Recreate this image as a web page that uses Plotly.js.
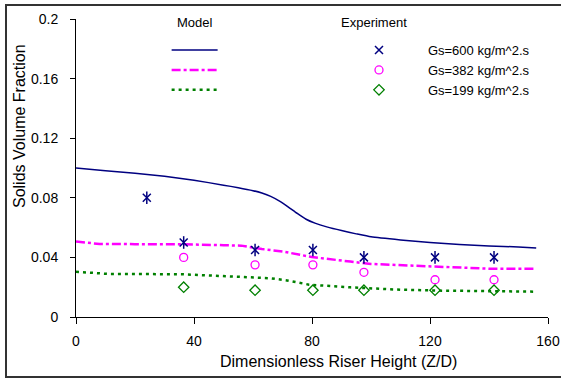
<!DOCTYPE html>
<html>
<head>
<meta charset="utf-8">
<script src="https://cdn.plot.ly/plotly-3.0.1.min.js"></script>
<style>html,body{margin:0;padding:0;background:#fff;}#chart{width:561px;height:379px;}</style>
</head>
<body>
<div id="chart"></div>
<script>
// Model curves
const modelX600 = [0, 10, 20, 30, 40, 50, 55, 60, 63, 66, 69, 72, 75, 78, 81, 85, 90, 95, 100, 110, 120, 130, 140, 150, 156];
const model600  = [0.100, 0.0982, 0.0965, 0.0945, 0.0918, 0.0885, 0.0868, 0.0848, 0.0832, 0.0810, 0.0778, 0.0738, 0.0695, 0.0656, 0.0630, 0.0605, 0.0580, 0.0558, 0.0538, 0.0517, 0.0500, 0.0487, 0.0477, 0.0470, 0.0463];
const modelX382 = [0, 8, 20, 36, 50, 56, 63, 70, 80, 86, 93, 100, 110, 124, 140, 156];
const model382  = [0.0506, 0.0490, 0.0489, 0.0488, 0.0482, 0.0479, 0.0456, 0.0440, 0.0402, 0.0390, 0.0372, 0.0356, 0.0349, 0.0338, 0.0324, 0.0324];
const modelX199 = [0, 11, 36, 52, 66, 72, 79, 93, 110, 124, 140, 156];
const model199  = [0.0304, 0.0289, 0.0287, 0.0275, 0.0260, 0.0244, 0.0217, 0.0199, 0.0183, 0.0177, 0.0173, 0.0170];

// Experimental points
const expX600 = [24, 36.5, 60.7, 80.3, 97.6, 121.7, 141.7];
const exp600  = [0.080, 0.050, 0.045, 0.045, 0.040, 0.040, 0.040];
const expX    = [36.5, 60.7, 80.3, 97.6, 121.7, 141.7];
const exp382  = [0.040, 0.035, 0.035, 0.030, 0.025, 0.025];
const exp199  = [0.020, 0.018, 0.018, 0.018, 0.018, 0.018];

const seriesNames = ["Gs=600 kg/m^2.s", "Gs=382 kg/m^2.s", "Gs=199 kg/m^2.s"];
const xTicks = [0, 40, 80, 120, 160];
const yTicks = [0, 0.04, 0.08, 0.12, 0.16, 0.2];
const yTickText = ["0", "0.04", "0.08", "0.12", "0.16", "0.2"];

const NAVY = "#000080", MAG = "#FF00FF", GRN = "#008000";
const FONT = "Arial, 'Liberation Sans', sans-serif";
const PAD = "\u00A0".repeat(8);

const data = [
  {x: modelX600, y: model600, mode: "lines", name: "", legend: "legend",
   line: {color: NAVY, width: 1.5, shape: "spline", smoothing: 0.5}, hoverinfo: "skip"},
  {x: modelX382, y: model382, mode: "lines", name: "", legend: "legend",
   line: {color: MAG, width: 2.5, dash: "9px,3px,3px,3px"}, hoverinfo: "skip"},
  {x: modelX199, y: model199, mode: "lines", name: "", legend: "legend",
   line: {color: GRN, width: 2.5, dash: "3px,4px"}, hoverinfo: "skip"},
  {x: expX600, y: exp600, mode: "markers", name: PAD + seriesNames[0], legend: "legend2",
   marker: {symbol: "x-thin-open", size: 8, color: NAVY, line: {color: NAVY, width: 1.5}}},
  {x: expX600, y: exp600, mode: "markers", name: seriesNames[0], showlegend: false,
   marker: {symbol: "line-ns-open", size: 9, color: NAVY, line: {color: NAVY, width: 1.5}}},
  {x: expX, y: exp382, mode: "markers", name: PAD + seriesNames[1], legend: "legend2",
   marker: {symbol: "circle-open", size: 8, color: MAG, line: {color: MAG, width: 1.3}}},
  {x: expX, y: exp199, mode: "markers", name: PAD + seriesNames[2], legend: "legend2",
   marker: {symbol: "diamond-open", size: 8, color: GRN, line: {color: GRN, width: 1.3}}}
];

const layout = {
  width: 561, height: 379,
  margin: {l: 76, r: 13, t: 19, b: 62, pad: 0},
  paper_bgcolor: "#fff", plot_bgcolor: "#fff",
  font: {family: FONT, color: "#000", size: 14},
  showlegend: true,
  xaxis: {
    range: [0, 160], tickvals: xTicks, ticktext: xTicks.map(String),
    showgrid: false, zeroline: false, showline: true, linecolor: "#000", linewidth: 1,
    ticks: "outside", ticklen: 6, tickcolor: "#000", tickwidth: 1, ticklabelstandoff: 5,
    tickfont: {size: 14, family: FONT}, fixedrange: true
  },
  xaxis2: {
    range: [0, 160], tickvals: xTicks, overlaying: "x", anchor: "y", side: "bottom",
    showticklabels: false, showgrid: false, zeroline: false, showline: false,
    ticks: "inside", ticklen: 4, tickcolor: "#000", tickwidth: 1, fixedrange: true
  },
  yaxis: {
    range: [0, 0.2], tickvals: yTicks, ticktext: yTickText,
    showgrid: false, zeroline: false, showline: true, linecolor: "#000", linewidth: 1,
    ticks: "outside", ticklen: 5, tickcolor: "#000", tickwidth: 1, ticklabelstandoff: 9,
    tickfont: {size: 14, family: FONT}, fixedrange: true
  },
  yaxis2: {
    range: [0, 0.2], tickvals: yTicks, overlaying: "y", anchor: "x", side: "left",
    showticklabels: false, showgrid: false, zeroline: false, showline: false,
    ticks: "inside", ticklen: 4, tickcolor: "#000", tickwidth: 1, fixedrange: true
  },
  legend: {
    x: 0.192, y: 0.946, xanchor: "left", yanchor: "top",
    bgcolor: "rgba(0,0,0,0)", borderwidth: 0, itemwidth: 46,
    font: {size: 13, family: FONT}, tracegroupgap: 0
  },
  legend2: {
    x: (359 - 76) / 472, y: 0.946, xanchor: "left", yanchor: "top",
    bgcolor: "rgba(0,0,0,0)", borderwidth: 0, itemwidth: 30,
    font: {size: 13, family: FONT}, tracegroupgap: 0
  },
  annotations: [
    {text: "Model", xref: "paper", yref: "paper", x: (195 - 76) / 472, y: (317 - 22) / 298,
     showarrow: false, font: {size: 13, family: FONT}, xanchor: "center", yanchor: "middle"},
    {text: "Experiment", xref: "paper", yref: "paper", x: (374 - 76) / 472, y: (317 - 22) / 298,
     showarrow: false, font: {size: 13, family: FONT}, xanchor: "center", yanchor: "middle"},
    {text: "Dimensionless Riser Height (Z/D)", xref: "paper", yref: "paper",
     x: (338 - 76) / 472, y: (317 - 361) / 298,
     showarrow: false, font: {size: 16, family: FONT}, xanchor: "center", yanchor: "middle"},
    {text: "Solids Volume Fraction", xref: "paper", yref: "paper", textangle: -90,
     x: (19 - 76) / 472, y: (317 - 126) / 298,
     showarrow: false, font: {size: 16, family: FONT}, xanchor: "center", yanchor: "middle"}
  ],
  shapes: [
    {type: "rect", xref: "paper", yref: "paper",
     x0: (6 - 76) / 472, x1: (565 - 76) / 472, y0: (317 - 377) / 298, y1: (317 - 5) / 298,
     line: {color: "#333", width: 2}, fillcolor: "rgba(0,0,0,0)", layer: "below"}
  ]
};

Plotly.newPlot("chart", data, layout, {displayModeBar: false, staticPlot: true});
</script>
</body>
</html>
